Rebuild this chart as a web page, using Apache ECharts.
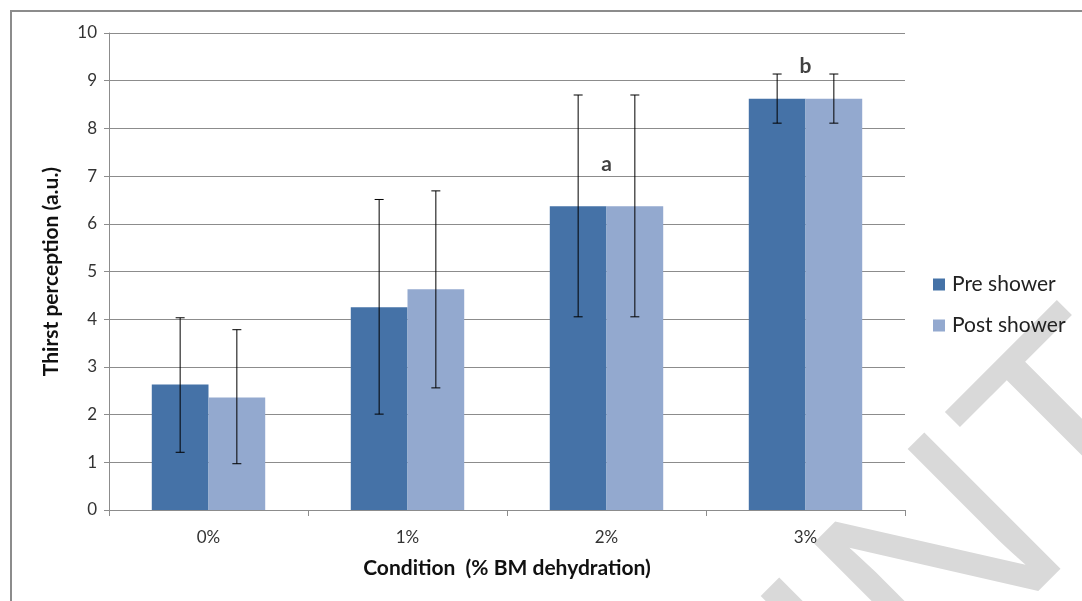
<!DOCTYPE html>
<html>
<head>
<meta charset="utf-8">
<script src="https://cdn.jsdelivr.net/npm/echarts@6/dist/echarts.min.js"></script>
<style>
html,body{margin:0;padding:0;background:#fff;}
#main{width:1082px;height:601px;}
</style>
</head>
<body>
<div id="main"></div>
<script>
// data
var categories = ['0%', '1%', '2%', '3%'];
var preShower = [2.63, 4.25, 6.37, 8.62];
var postShower = [2.36, 4.63, 6.37, 8.62];
var preLow = [1.21, 2.01, 4.05, 8.11];
var preHigh = [4.03, 6.51, 8.70, 9.14];
var postLow = [0.97, 2.56, 4.05, 8.11];
var postHigh = [3.78, 6.69, 8.70, 9.14];
var sigLabels = ['', '', 'a', 'b'];
var sigPos = [null, null, 7.25, 9.3];

var fontFam = 'Lato, "Open Sans", sans-serif';
var gapPct = 43; // barCategoryGap

function errData(low, high){
	var d = [];
	for(var i=0;i<categories.length;i++){
		d.push([i, low[i], high[i]]);
	}
	return d;
}
// side: -1 = first bar of the pair, 1 = second
function errRender(side){
	return function(params, api){
		var i = api.value(0);
		var lo = api.coord([i, api.value(1)]);
		var hi = api.coord([i, api.value(2)]);
		var catW = api.size([1, 0])[0];
		var barW = catW * (1 - gapPct/100) / 2;
		var x = lo[0] + side * barW / 2;
		var cap = 4.5;
		var st = {stroke: '#000', lineWidth: 1};
		return {
			type: 'group',
			children: [
				{type:'line', shape:{x1:x, y1:hi[1], x2:x, y2:lo[1]}, style:st},
				{type:'line', shape:{x1:x-cap, y1:hi[1], x2:x+cap, y2:hi[1]}, style:st},
				{type:'line', shape:{x1:x-cap, y1:lo[1], x2:x+cap, y2:lo[1]}, style:st}
			]
		};
	};
}

var chart = echarts.init(document.getElementById('main'));
var option = {
	backgroundColor: '#fff',
	animation: false,
	textStyle: {fontFamily: fontFam},
	grid: {left: 109, top: 33, right: 177, bottom: 91},
	legend: {
		orient: 'vertical',
		left: 933,
		top: 274,
		padding: 0,
		itemWidth: 12,
		itemHeight: 12,
		itemGap: 20,
		icon: 'rect',
		textStyle: {fontSize: 21, color: '#222', fontFamily: fontFam, padding: [0,0,0,2]},
		data: ['Pre shower', 'Post shower']
	},
	graphic: [
		{
			type: 'text',
			x: 1143, y: 377,
			rotation: Math.PI/4,
			z: -10,
			silent: true,
			style: {
				text: 'PREPRINT',
				fontSize: 280,
				fontFamily: '"Liberation Sans", Arial, sans-serif',
				fill: '#d9d9d9',
				textAlign: 'right',
				textVerticalAlign: 'middle'
			}
		},
		{
			type: 'rect',
			shape: {x: 11, y: 11, width: 1200, height: 700},
			style: {fill: 'none', stroke: '#8c8c8c', lineWidth: 2},
			silent: true
		}
	],
	xAxis: {
		type: 'category',
		data: categories,
		name: 'Condition  (% BM dehydration)',
		nameLocation: 'middle',
		nameGap: 48,
		nameTextStyle: {fontSize: 21, fontWeight: 'bold', color: '#111', fontFamily: fontFam},
		axisLine: {lineStyle: {color: '#8c8c8c', width: 1}},
		axisTick: {show: true, length: 6, lineStyle: {color: '#8c8c8c'}},
		axisLabel: {fontSize: 17, color: '#333', margin: 19, fontFamily: fontFam}
	},
	yAxis: {
		type: 'value',
		min: 0,
		max: 10,
		interval: 1,
		name: 'Thirst perception (a.u.)',
		nameLocation: 'middle',
		nameGap: 47,
		nameRotate: 90,
		nameTextStyle: {fontSize: 21, fontWeight: 'bold', color: '#111', fontFamily: fontFam},
		axisLine: {show: true, lineStyle: {color: '#8c8c8c', width: 1}},
		axisTick: {show: true, length: 5, lineStyle: {color: '#8c8c8c'}},
		axisLabel: {fontSize: 17, color: '#333', margin: 12, fontFamily: fontFam},
		splitLine: {show: true, lineStyle: {color: '#8c8c8c', width: 1}}
	},
	series: [
		{
			name: 'Pre shower',
			type: 'bar',
			data: preShower,
			barGap: '0%',
			barCategoryGap: gapPct + '%',
			itemStyle: {color: '#4572A7'},
			z: 2
		},
		{
			name: 'Post shower',
			type: 'bar',
			data: postShower,
			itemStyle: {color: '#93A9CF'},
			z: 2
		},
		{
			type: 'custom',
			renderItem: errRender(-1),
			data: errData(preLow, preHigh),
			encode: {x: 0, y: [1, 2]},
			z: 5
		},
		{
			type: 'custom',
			renderItem: errRender(1),
			data: errData(postLow, postHigh),
			encode: {x: 0, y: [1, 2]},
			z: 5
		},
		{
			type: 'scatter',
			data: sigPos,
			symbolSize: 0,
			z: 6,
			label: {
				show: true,
				position: 'inside',
				fontSize: 21,
				fontWeight: 'bold',
				color: '#111',
				fontFamily: fontFam,
				formatter: function(p){ return sigLabels[p.dataIndex]; }
			}
		}
	]
};
chart.setOption(option);
</script>
</body>
</html>
